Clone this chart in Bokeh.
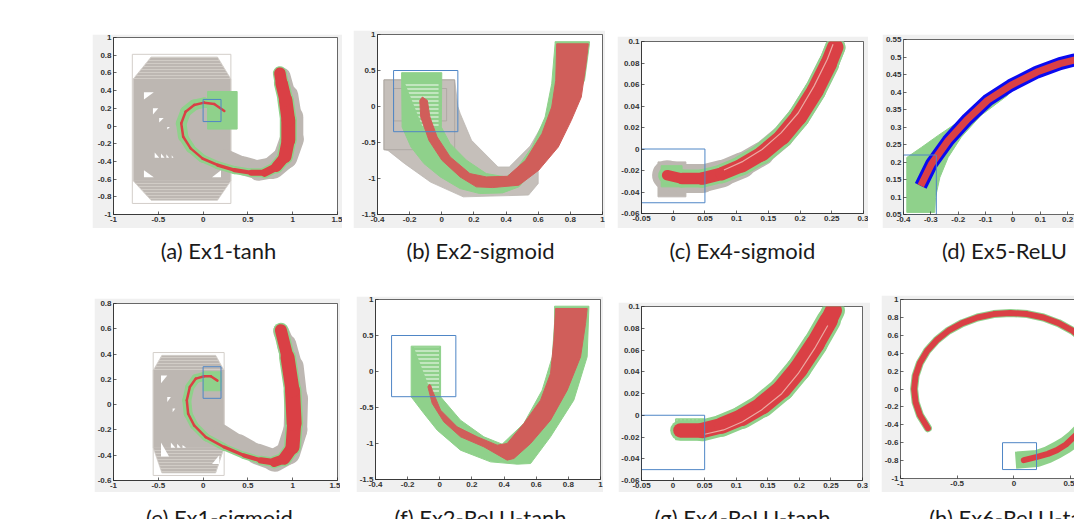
from bokeh.plotting import figure
from bokeh.models import Range1d, FixedTicker, LinearAxis, Spacer, NumeralTickFormatter
from bokeh.layouts import row, column
from bokeh.embed import file_html
from bokeh.resources import INLINE
from bokeh.core.properties import value

# ---------------- colours ----------------
BG = "#f0f0f0"
AXC = "#262626"
GREY = "#bdb7b2"
GREY_B = "#c5bfba"
GREY_L = "#d3cec9"
GREEN = "#8fd18b"
RED = "#da4045"
RED_B = "#d05e5a"
BOX = "#4f86c6"
BLUE = "#0a0af0"

# ---------------- captions ----------------
CAP1_TEXT = ["(a) Ex1-tanh", "(b) Ex2-sigmoid", "(c) Ex4-sigmoid", "(d) Ex5-ReLU"]
CAP1_X = [218, 480, 742, 1004]
CAP2_TEXT = ["(e) Ex1-sigmoid", "(f) Ex2-ReLU-tanh", "(g) Ex4-ReLU-tanh", "(h) Ex6-ReLU-tanh"]
CAP2_X = [219, 480, 742, 1017]

# ---------------- (a) Ex1-tanh ----------------
A_XT = [-1, -0.5, 0, 0.5, 1, 1.5]
A_YT = [-1, -0.8, -0.6, -0.4, -0.2, 0, 0.2, 0.4, 0.6, 0.8, 1]
A_INIT = [0.0, 0.2, 0.05, 0.3]               # left, right, bottom, top
A_OUT = [-0.79, 0.31, -0.875, 0.81]
A_OCT_X = [-0.58, 0.16, 0.31, 0.31, 0.16, -0.58, -0.78, -0.78]
A_OCT_Y = [0.78, 0.78, 0.53, -0.62, -0.84, -0.84, -0.62, 0.53]
A_TOP_X = [-0.58, 0.16, 0.31, -0.78]
A_TOP_Y = [0.78, 0.78, 0.53, 0.53]
A_BOT_X = [-0.78, 0.31, 0.16, -0.58]
A_BOT_Y = [-0.62, -0.62, -0.84, -0.84]
A_GAP_X = [[-0.66, -0.55, -0.66], [-0.56, -0.50, -0.56], [-0.49, -0.44, -0.49],
           [-0.40, -0.37, -0.40], [-0.66, -0.66, -0.55], [-0.54, -0.54, -0.49],
           [-0.47, -0.47, -0.43], [-0.41, -0.41, -0.38], [-0.35, -0.35, -0.33],
           [0.20, 0.20, 0.10]]
A_GAP_Y = [[0.38, 0.38, 0.30], [0.20, 0.20, 0.13], [0.09, 0.09, 0.04],
           [-0.01, -0.01, -0.04], [-0.50, -0.58, -0.58], [-0.30, -0.36, -0.36],
           [-0.31, -0.36, -0.36], [-0.32, -0.36, -0.36], [-0.33, -0.36, -0.36],
           [-0.50, -0.58, -0.58]]
A_GBOX = [0.05, 0.38, -0.035, 0.39]
A_GREY_X = [0.25, 0.45, 0.62, 0.78, 0.92, 0.99, 0.99, 0.95, 0.89]
A_GREY_Y = [-0.36, -0.45, -0.50, -0.47, -0.35, -0.15, 0.10, 0.35, 0.57]
A_GREY_W = [16, 18, 20, 22, 24, 24, 22, 18, 12]
A_X = [0.237, 0.124, 0.011, -0.10, -0.195, -0.244, -0.222, -0.139, -0.008, 0.162,
       0.35, 0.538, 0.688, 0.82, 0.914, 0.951, 0.951, 0.921, 0.876, 0.857]
A_Y = [0.17, 0.249, 0.264, 0.238, 0.162, 0.03, -0.121, -0.253, -0.366, -0.442,
       -0.498, -0.528, -0.528, -0.46, -0.347, -0.158, 0.068, 0.294, 0.483, 0.596]
A_RW = [2.5, 2.5, 2.5, 2.5, 2.5, 2.5, 2.5, 2.5, 2.5, 3, 3.5, 5, 7, 9, 12, 14, 14, 13, 12, 11]
A_GW = [10, 10, 10, 11, 11, 11, 10, 9, 8, 8, 8, 8, 10, 12, 15, 17, 17, 16, 15, 13]

# ---------------- (b) Ex2-sigmoid ----------------
B_XT = [-0.4, -0.2, 0, 0.2, 0.4, 0.6, 0.8, 1]
B_YT = [-1.5, -1, -0.5, 0, 0.5, 1]
B_INIT = [-0.3, 0.1, -0.35, 0.5]
B_GOUT_L = [-0.36, -0.30]
B_GOUT_R = [0.08, 0.03]
B_GOUT_B = [-0.60, -0.20]
B_GOUT_T = [0.37, 0.25]
B_GREY_X = [-0.36, 0.08, 0.10, 0.115, 0.185, 0.35, 0.42, 0.55, 0.64, 0.70, 0.75, 0.68,
            0.60, 0.60, 0.54, 0.134, -0.07, -0.233, -0.335, -0.36]
B_GREY_Y = [0.37, 0.37, 0.0, -0.1, -0.47, -0.84, -0.84, -0.55, -0.2, 0.0, -0.1, -0.5,
            -0.9, -1.07, -1.23, -1.255, -1.05, -0.79, -0.61, -0.6]
B_GREEN_X = [-0.25, 0.0, -0.003, 0.052, 0.154, 0.277, 0.399, 0.46, 0.562, 0.643, 0.684,
             0.705, 0.705, 0.919, 0.919, 0.888, 0.786, 0.684, 0.572, 0.48, 0.378, 0.236,
             0.114, -0.009, -0.111, -0.192, -0.247]
B_GREEN_Y = [0.47, 0.47, -0.285, -0.516, -0.747, -0.932, -0.978, -0.885, -0.562, -0.146,
             0.316, 0.871, 0.90, 0.90, 0.871, 0.362, -0.054, -0.47, -0.885, -1.116, -1.20,
             -1.209, -1.14, -0.978, -0.793, -0.562, -0.285]
B_STRIPE_X = [-0.23, -0.02, -0.02, -0.12]
B_STRIPE_Y = [0.33, 0.33, -0.28, -0.28]
B_RED_X = [-0.121, -0.137, -0.131, -0.08, 0.001, 0.114, 0.215, 0.317, 0.48, 0.603, 0.725,
           0.806, 0.868, 0.898, 0.912, 0.715, 0.709, 0.684, 0.623, 0.521, 0.409, 0.277,
           0.175, 0.052, -0.029, -0.074, -0.09]
B_RED_Y = [0.131, 0.085, -0.146, -0.47, -0.747, -0.978, -1.116, -1.126, -1.093, -0.885,
           -0.562, -0.192, 0.131, 0.593, 0.871, 0.871, 0.362, -0.007, -0.377, -0.747,
           -0.969, -0.978, -0.932, -0.70, -0.423, -0.146, 0.085]

# ---------------- (c) Ex4-sigmoid ----------------
C_XT = [-0.05, 0, 0.05, 0.1, 0.15, 0.2, 0.25, 0.3]
C_YT = [-0.06, -0.04, -0.02, 0, 0.02, 0.04, 0.06, 0.08, 0.1]
C_INIT = [-0.05, 0.05, -0.05, 0.0]
C_GREYBOX = [-0.024, 0.02, -0.0445, -0.012]
C_GREENBOX = [-0.019, 0.014, -0.0352, -0.0155]
C_X = [-0.0096, 0.014, 0.0455, 0.077, 0.1085, 0.14, 0.1715, 0.1977, 0.224, 0.245, 0.2554]
C_Y = [-0.0244, -0.0275, -0.0275, -0.0229, -0.0151, -0.0043, 0.0112, 0.0297, 0.0545, 0.0793, 0.0947]
C_RW = [10, 11, 12, 13, 14, 15, 16, 17, 17, 17, 16]
C_GW = [18, 18, 18, 19, 20, 21, 22, 22, 22, 21, 20]
C_YW = [30, 30, 28, 27, 25, 23, 22, 22, 22, 21, 20]
C_STREAK_X = [0.08, 0.11, 0.14, 0.17, 0.197, 0.222, 0.243, 0.252]
C_STREAK_Y = [-0.0195, -0.0115, -0.0005, 0.0150, 0.0335, 0.0585, 0.0835, 0.0975]

# ---------------- (d) Ex5-ReLU ----------------
D_XT = [-0.4, -0.3, -0.2, -0.1, 0, 0.1, 0.2]
D_YT = [0.05, 0.1, 0.15, 0.2, 0.25, 0.3, 0.35, 0.4, 0.45, 0.5, 0.55]
D_INIT = [-0.4, -0.28, 0.05, 0.22]
D_GREEN_X = [-0.388, -0.388, -0.334, -0.273, -0.201, -0.117, -0.033, 0.0, -0.02, -0.117,
             -0.189, -0.237, -0.267, -0.283, -0.286]
D_GREEN_Y = [0.056, 0.213, 0.242, 0.276, 0.314, 0.362, 0.405, 0.42, 0.39, 0.333,
             0.271, 0.213, 0.156, 0.099, 0.056]
D_X = [-0.337, -0.298, -0.237, -0.165, -0.093, -0.008, 0.088, 0.172, 0.223, 0.26]
D_Y = [0.132, 0.194, 0.261, 0.323, 0.376, 0.419, 0.457, 0.481, 0.491, 0.497]

# ---------------- (e) Ex1-sigmoid ----------------
E_XT = [-1, -0.5, 0, 0.5, 1, 1.5]
E_YT = [-0.6, -0.4, -0.2, 0, 0.2, 0.4, 0.6, 0.8]
E_INIT = [0.0, 0.2, 0.05, 0.3]
E_OUT = [-0.557, 0.235, -0.56, 0.412]
E_OCT_X = [-0.46, 0.14, 0.235, 0.235, 0.14, -0.46, -0.557, -0.557]
E_OCT_Y = [0.39, 0.39, 0.27, -0.34, -0.54, -0.54, -0.34, 0.27]
E_TOP_X = [-0.46, 0.14, 0.235, -0.557]
E_TOP_Y = [0.39, 0.39, 0.27, 0.27]
E_BOT_X = [-0.557, 0.235, 0.14, -0.46]
E_BOT_Y = [-0.34, -0.34, -0.54, -0.54]
E_GAP_X = [[-0.47, -0.40, -0.47], [-0.40, -0.36, -0.40], [-0.34, -0.31, -0.34],
           [-0.47, -0.47, -0.38], [-0.36, -0.36, -0.31], [-0.29, -0.29, -0.25],
           [-0.23, -0.23, -0.19], [0.18, 0.18, 0.10]]
E_GAP_Y = [[0.23, 0.23, 0.17], [0.06, 0.06, 0.02], [-0.03, -0.03, -0.06],
           [-0.30, -0.41, -0.41], [-0.30, -0.34, -0.34], [-0.31, -0.34, -0.34],
           [-0.32, -0.34, -0.34], [-0.40, -0.47, -0.47]]
E_GBOX = [0.0, 0.2, 0.11, 0.26]
E_GREY_X = [0.2, 0.4, 0.6, 0.8, 0.95, 1.03, 1.04, 1.0, 0.93, 0.87]
E_GREY_Y = [-0.22, -0.31, -0.39, -0.44, -0.38, -0.2, 0.05, 0.3, 0.48, 0.58]
E_GREY_W = [16, 18, 20, 22, 24, 24, 23, 21, 18, 14]
E_X = [0.16, 0.086, 0.012, -0.081, -0.148, -0.182, -0.167, -0.10, 0.03, 0.235, 0.458,
       0.644, 0.793, 0.905, 0.998, 1.016, 0.998, 0.942, 0.868]
E_Y = [0.19, 0.224, 0.224, 0.206, 0.14, 0.034, -0.072, -0.164, -0.257, -0.336, -0.402,
       -0.441, -0.455, -0.428, -0.336, -0.151, 0.113, 0.377, 0.589]
E_RW = [2.5, 2.5, 2.5, 2.5, 2.5, 2.5, 2.5, 2.5, 2.5, 3, 3.5, 5, 8, 11, 13, 15, 15, 13, 11]
E_GW = [9, 9, 9, 9, 9, 9, 9, 8, 8, 7, 7, 8, 11, 14, 16, 18, 18, 16, 14]

# ---------------- (f) Ex2-ReLU-tanh ----------------
F_XT = [-0.4, -0.2, 0, 0.2, 0.4, 0.6, 0.8, 1]
F_YT = [-1.5, -1, -0.5, 0, 0.5, 1]
F_INIT = [-0.3, 0.1, -0.35, 0.5]
F_GREEN_X = [-0.178, 0.005, 0.005, 0.129, 0.274, 0.388, 0.523, 0.637, 0.70, 0.714, 0.714,
             0.928, 0.917, 0.834, 0.689, 0.565, 0.482, 0.316, 0.129, -0.016, -0.099, -0.178]
F_GREEN_Y = [0.352, 0.352, -0.352, -0.676, -0.907, -1.009, -0.722, -0.259, 0.204, 0.667,
             0.907, 0.907, 0.204, -0.398, -0.907, -1.278, -1.287, -1.255, -1.093, -0.815,
             -0.583, -0.352]
F_STRIPE_X = [-0.16, -0.005, -0.005, -0.05]
F_STRIPE_Y = [0.33, 0.33, -0.31, -0.31]
F_RED_X = [-0.065, -0.074, -0.047, 0.025, 0.129, 0.274, 0.419, 0.461, 0.565, 0.689, 0.793,
           0.876, 0.907, 0.917, 0.72, 0.71, 0.689, 0.627, 0.523, 0.419, 0.357, 0.233,
           0.108, 0.005, -0.047, -0.057]
F_RED_Y = [-0.18, -0.213, -0.444, -0.699, -0.907, -1.046, -1.231, -1.208, -1.0, -0.676,
           -0.259, 0.204, 0.667, 0.875, 0.875, 0.435, -0.028, -0.398, -0.722, -1.0,
           -1.023, -0.907, -0.769, -0.537, -0.259, -0.19]

# ---------------- (g) Ex4-ReLU-tanh ----------------
G_XT = [-0.05, 0, 0.05, 0.1, 0.15, 0.2, 0.25, 0.3]
G_YT = [-0.06, -0.04, -0.02, 0, 0.02, 0.04, 0.06, 0.08, 0.1]
G_INIT = [-0.05, 0.05, -0.05, 0.0]
G_GBOX = [0.004, 0.05, -0.0226, -0.0033]
G_X = [0.0117, 0.046, 0.0776, 0.1092, 0.1408, 0.1725, 0.1988, 0.2252, 0.2463, 0.254]
G_Y = [-0.014, -0.014, -0.0094, -0.0018, 0.009, 0.0243, 0.0427, 0.0657, 0.0871, 0.0963]
G_RW = [14, 15, 16, 17, 18, 19, 19, 19, 18, 16]
G_GW = [20, 21, 22, 23, 24, 25, 25, 25, 24, 22]
G_STREAK_X = [0.05, 0.08, 0.11, 0.14, 0.172, 0.198, 0.224, 0.245]
G_STREAK_Y = [-0.0175, -0.0135, -0.006, 0.0048, 0.0198, 0.0382, 0.0612, 0.0826]

# ---------------- (h) Ex6-ReLU-tanh ----------------
H_XT = [-1, -0.5, 0, 0.5, 1]
H_YT = [-1, -0.8, -0.6, -0.4, -0.2, 0, 0.2, 0.4, 0.6, 0.8, 1]
H_INIT = [-0.1, 0.2, -0.9, -0.6]
H_ARC_X = [-0.758, -0.829, -0.867, -0.88, -0.867, -0.829, -0.766, -0.681, -0.577, -0.455,
           -0.321, -0.178, -0.03, 0.118, 0.261, 0.395, 0.517, 0.621, 0.706]
H_ARC_Y = [-0.438, -0.291, -0.148, 0.0, 0.148, 0.291, 0.425, 0.546, 0.651, 0.736,
           0.799, 0.837, 0.85, 0.837, 0.799, 0.736, 0.651, 0.546, 0.425]
H_LOW_X = [0.088, 0.205, 0.30, 0.38, 0.46, 0.532, 0.62]
H_LOW_Y = [-0.795, -0.758, -0.725, -0.683, -0.62, -0.534, -0.42]
H_GLOW_X = [0.015, 0.205, 0.30, 0.38, 0.46, 0.532, 0.62]
H_GLOW_Y = [-0.795, -0.777, -0.735, -0.683, -0.625, -0.553, -0.44]

# ---------------- panel geometry (window px) ----------------
GEOM = {
    "a": ((92, 34, 342, 228), (113, 37, 337, 214), (-1, 1.5), (-1, 1)),
    "b": ((353, 30, 605, 228), (377, 34, 602, 214), (-0.4, 1), (-1.5, 1)),
    "c": ((617, 36, 868, 228), (641, 41, 863, 213), (-0.05, 0.3), (-0.06, 0.1)),
    "d": ((882, 34, 1074, 228), (901, 39, 1074, 214), (-0.4, 0.225), (0.05, 0.55)),
    "e": ((94, 298, 340, 492), (113, 303, 337, 480), (-1, 1.5), (-0.6, 0.8)),
    "f": ((356, 296, 603, 492), (375, 299, 600, 479), (-0.4, 1), (-1.5, 1)),
    "g": ((618, 302, 870, 492), (641, 306, 862, 480), (-0.05, 0.3), (-0.06, 0.1)),
    "h": ((881, 295, 1074, 492), (899, 299, 1074, 478), (-1, 0.535), (-1, 1)),
}


def style_axis(ax, ticks):
    ax.ticker = FixedTicker(ticks=ticks)
    ax.formatter = NumeralTickFormatter(format="0.[00]")
    ax.axis_line_color = AXC
    ax.axis_line_width = 0.7
    ax.major_tick_line_color = AXC
    ax.major_tick_line_width = 0.7
    ax.major_tick_in = 3
    ax.major_tick_out = 0
    ax.minor_tick_line_color = None
    ax.major_label_text_font = "Liberation Sans"
    ax.major_label_text_font_style = "bold"
    ax.major_label_text_color = "#333333"
    ax.major_label_text_font_size = "8px"
    ax.major_label_standoff = 2


def make_fig(key, xt, yt, right_edge=True):
    (gx0, gy0, gx1, gy1), (fx0, fy0, fx1, fy1), xr, yr = GEOM[key]
    p = figure(width=gx1 - gx0, height=gy1 - gy0,
               x_range=Range1d(*xr), y_range=Range1d(*yr),
               output_backend="svg", toolbar_location=None,
               min_border_left=fx0 - gx0, min_border_right=gx1 - fx1,
               min_border_top=fy0 - gy0, min_border_bottom=gy1 - fy1)
    p.border_fill_color = BG
    p.background_fill_color = "white"
    p.grid.visible = False
    style_axis(p.xaxis[0], xt)
    style_axis(p.yaxis[0], yt)
    if right_edge:
        p.outline_line_color = AXC
        p.outline_line_width = 0.7
    else:
        p.outline_line_color = None
        top = LinearAxis(ticker=FixedTicker(ticks=[]), axis_line_color=AXC,
                         axis_line_width=0.7, major_label_text_font_size="8px",
                         major_tick_out=0, major_tick_in=0, minor_tick_line_color=None)
        p.add_layout(top, "above")
    return p


def band(p, xs, ys, ws, color, cap="round"):
    w = [(a + b) / 2 for a, b in zip(ws[:-1], ws[1:])]
    p.segment(x0=xs[:-1], y0=ys[:-1], x1=xs[1:], y1=ys[1:],
              line_width=w, line_color=color, line_cap=cap)


def box(p, b, fill=None, line=None, lw=1.0, **kw):
    p.quad(left=[b[0]], right=[b[1]], bottom=[b[2]], top=[b[3]],
           fill_color=fill, fill_alpha=1 if fill else 0,
           line_color=line, line_width=lw, **kw)


def stripes(p, xs, ys, color, direction="horizontal_line", alpha=0.9, scale=3):
    p.patch(xs, ys, fill_alpha=0, line_color=None, hatch_pattern=direction,
            hatch_color=color, hatch_alpha=alpha, hatch_scale=scale, hatch_weight=1)


# ---------------- (a) ----------------
pa = make_fig("a", A_XT, A_YT)
box(pa, A_OUT, line=GREY_L, lw=1)
pa.patch(A_OCT_X, A_OCT_Y, fill_color=GREY, line_color=GREY_L, line_width=0.8)
stripes(pa, A_TOP_X, A_TOP_Y, GREY_L)
stripes(pa, A_BOT_X, A_BOT_Y, GREY_L)
pa.patches(A_GAP_X, A_GAP_Y, fill_color="white", line_color=None)
band(pa, A_GREY_X, A_GREY_Y, A_GREY_W, GREY)
band(pa, A_X, A_Y, A_GW, GREEN)
box(pa, A_GBOX, fill=GREEN, line=GREEN)
band(pa, A_X, A_Y, A_RW, RED)
box(pa, A_INIT, line=BOX, lw=1)

# ---------------- (b) ----------------
pb = make_fig("b", B_XT, B_YT)
pb.patch(B_GREY_X, B_GREY_Y, fill_color=GREY_B, line_color=GREY, line_width=0.8)
pb.quad(left=B_GOUT_L, right=B_GOUT_R, bottom=B_GOUT_B, top=B_GOUT_T,
        fill_alpha=0, line_color="#aaa39e", line_width=0.8)
pb.patch(B_GREEN_X, B_GREEN_Y, fill_color=GREEN, line_color=GREEN)
stripes(pb, B_STRIPE_X, B_STRIPE_Y, "white", scale=4)
pb.patch(B_RED_X, B_RED_Y, fill_color=RED_B, line_color=RED_B, line_width=1)
box(pb, B_INIT, line=BOX, lw=1)

# ---------------- (c) ----------------
pc = make_fig("c", C_XT, C_YT)
box(pc, C_GREYBOX, fill=GREY, line=GREY)
band(pc, C_X, C_Y, C_YW, GREY)
box(pc, C_GREENBOX, fill=GREEN, line=GREEN)
band(pc, C_X, C_Y, C_GW, GREEN)
band(pc, C_X, C_Y, C_RW, RED)
pc.line(C_STREAK_X, C_STREAK_Y, line_color="#eba9a2", line_width=1.2)
box(pc, C_INIT, line=BOX, lw=1)

# ---------------- (d) ----------------
pd = make_fig("d", D_XT, D_YT, right_edge=False)
pd.patch(D_GREEN_X, D_GREEN_Y, fill_color=GREEN, line_color=GREEN)
pd.line(D_X, D_Y, line_color=BLUE, line_width=13, line_join="round", line_cap="butt")
pd.line(D_X, D_Y, line_color=RED, line_width=7, line_join="round", line_cap="butt")
box(pd, D_INIT, line=BOX, lw=1)

# ---------------- (e) ----------------
pe = make_fig("e", E_XT, E_YT)
box(pe, E_OUT, line=GREY_L, lw=1)
pe.patch(E_OCT_X, E_OCT_Y, fill_color=GREY, line_color=GREY_L, line_width=0.8)
stripes(pe, E_TOP_X, E_TOP_Y, GREY_L)
stripes(pe, E_BOT_X, E_BOT_Y, GREY_L)
pe.patches(E_GAP_X, E_GAP_Y, fill_color="white", line_color=None)
band(pe, E_GREY_X, E_GREY_Y, E_GREY_W, GREY)
band(pe, E_X, E_Y, E_GW, GREEN)
box(pe, E_GBOX, fill=GREEN, line=GREEN)
band(pe, E_X, E_Y, E_RW, RED)
box(pe, E_INIT, line=BOX, lw=1)

# ---------------- (f) ----------------
pf = make_fig("f", F_XT, F_YT)
pf.patch(F_GREEN_X, F_GREEN_Y, fill_color=GREEN, line_color=GREEN)
stripes(pf, F_STRIPE_X, F_STRIPE_Y, "white", scale=4)
pf.patch(F_RED_X, F_RED_Y, fill_color=RED_B, line_color=RED_B, line_width=1)
box(pf, F_INIT, line=BOX, lw=1)

# ---------------- (g) ----------------
pg = make_fig("g", G_XT, G_YT)
box(pg, G_GBOX, fill=GREEN, line=GREEN, hatch_pattern="vertical_line",
    hatch_color="white", hatch_alpha=0.35, hatch_scale=4, hatch_weight=1)
band(pg, G_X, G_Y, G_GW, GREEN)
band(pg, G_X, G_Y, G_RW, RED)
pg.line(G_STREAK_X, G_STREAK_Y, line_color="#eba9a2", line_width=1.2)
box(pg, G_INIT, line=BOX, lw=1)

# ---------------- (h) ----------------
ph = make_fig("h", H_XT, H_YT, right_edge=False)
ph.line(H_ARC_X, H_ARC_Y, line_color=GREEN, line_width=8, line_join="round", line_cap="round")
ph.line(H_GLOW_X, H_GLOW_Y, line_color=GREEN, line_width=17, line_join="round", line_cap="butt")
ph.line(H_ARC_X, H_ARC_Y, line_color=RED, line_width=6, line_join="round", line_cap="round")
ph.line(H_LOW_X, H_LOW_Y, line_color=RED, line_width=6, line_join="round", line_cap="round")
box(ph, H_INIT, line=BOX, lw=1)


# ---------------- captions ----------------
def caption_fig(y0, y1, xs, texts, ymid):
    c = figure(width=1074, height=y1 - y0, x_range=Range1d(0, 1074), y_range=Range1d(y1, y0),
               output_backend="svg", toolbar_location=None,
               x_axis_type=None, y_axis_type=None, min_border=0)
    c.grid.visible = False
    c.outline_line_color = None
    c.border_fill_color = "white"
    c.text(x=xs, y=[ymid] * len(xs), text=texts, text_font=value("Lato"),
           text_font_size="22px", text_align="center", text_baseline="middle",
           text_color="#1a1a1a")
    return c


cap1 = caption_fig(228, 275, CAP1_X, CAP1_TEXT, 250)
cap2 = caption_fig(492, 519, CAP2_X, CAP2_TEXT, 517)


def place_row(items, row_top):
    kids = []
    cur = 0
    for key, fig in items:
        gx0, gy0, gx1, gy1 = GEOM[key][0]
        if gx0 > cur:
            kids.append(Spacer(width=gx0 - cur, height=1))
        if gy0 > row_top:
            kids.append(column(Spacer(width=gx1 - gx0, height=gy0 - row_top), fig))
        else:
            kids.append(fig)
        cur = gx1
    return row(*kids)


row1 = place_row([("a", pa), ("b", pb), ("c", pc), ("d", pd)], 0)
row2 = place_row([("e", pe), ("f", pf), ("g", pg), ("h", ph)], 275)
page = column(row1, cap1, row2, cap2)

open("out.html", "w").write(file_html(page, INLINE))
